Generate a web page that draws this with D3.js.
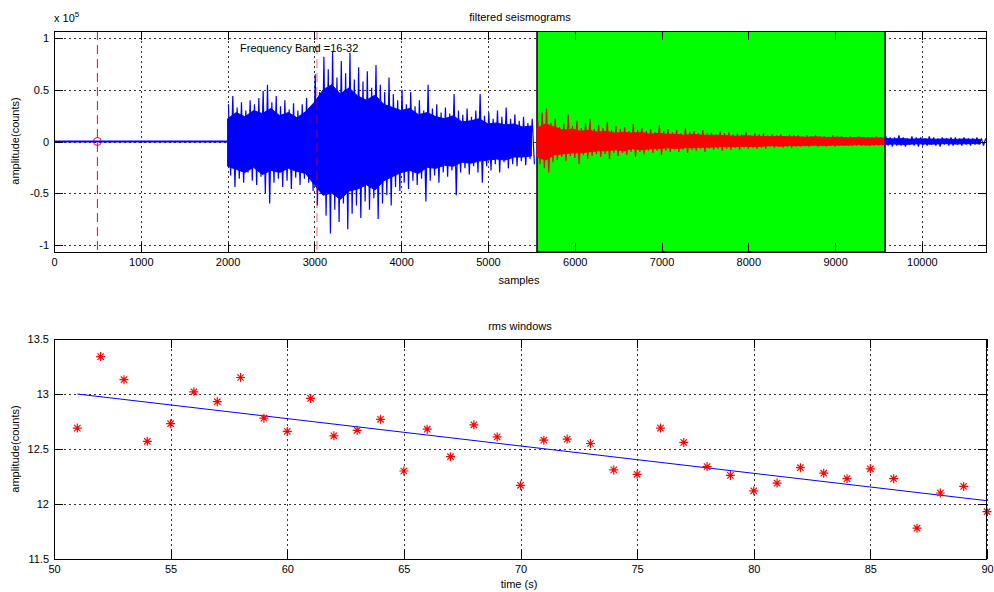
<!DOCTYPE html>
<html><head><meta charset="utf-8">
<script src="https://cdn.jsdelivr.net/npm/d3@7/dist/d3.min.js"></script>
<style>body{margin:0;background:#fff}svg{display:block;font-family:"Liberation Sans",Arial,sans-serif}</style>
</head><body>
<script>
// ---------- DATA ----------
// top panel: filtered seismogram (amplitude in units of 1e5 counts)
const quietSamples = [0, 2000];
const quietAmp = [0, 0];
// peak envelope per 50-sample bin
const loudStart = 2000, loudStep = 50;
const loudUpper = [0.36,0.44,0.33,0.38,0.30,0.40,0.36,0.42,0.49,0.55,0.38,0.44,0.34,0.40,0.31,0.37,0.30,0.36,0.42,0.34,
  0.65,0.48,0.82,0.70,0.87,0.62,0.78,0.66,0.86,0.60,0.72,0.58,0.68,0.52,0.74,0.55,0.48,0.62,0.46,0.40,
  0.50,0.36,0.48,0.34,0.40,0.30,0.55,0.32,0.36,0.28,0.33,0.27,0.46,0.30,0.26,0.32,0.24,0.30,0.46,0.25,
  0.28,0.22,0.30,0.24,0.33,0.22,0.26,0.20,0.24,0.18,0.22];
const loudLower = [-0.33,-0.44,-0.36,-0.40,-0.30,-0.38,-0.42,-0.34,-0.50,-0.60,-0.40,-0.36,-0.44,-0.38,-0.46,-0.35,-0.42,-0.36,-0.40,-0.48,
  -0.62,-0.50,-0.72,-0.89,-0.66,-0.78,-0.60,-0.85,-0.70,-0.62,-0.74,-0.58,-0.66,-0.55,-0.75,-0.60,-0.52,-0.62,-0.44,-0.48,
  -0.40,-0.46,-0.38,-0.42,-0.36,-0.58,-0.38,-0.33,-0.40,-0.30,-0.34,-0.28,-0.52,-0.30,-0.26,-0.32,-0.24,-0.30,-0.40,-0.24,
  -0.28,-0.22,-0.30,-0.20,-0.26,-0.22,-0.24,-0.19,-0.23,-0.17,-0.22];
const windowStart = 5565, windowEnd = 9575, windowStep = 50;
const windowUpper = [0.20,0.28,0.32,0.18,0.22,0.14,0.17,0.26,0.15,0.20,0.13,0.18,0.22,0.12,0.16,0.13,
  0.19,0.11,0.15,0.12,0.14,0.10,0.17,0.11,0.13,0.10,0.12,0.09,0.16,0.10,0.12,0.09,
  0.11,0.08,0.13,0.09,0.10,0.08,0.11,0.08,0.09,0.07,0.10,0.08,0.09,0.07,0.08,0.07,
  0.09,0.06,0.08,0.07,0.08,0.06,0.07,0.06,0.07,0.05,0.07,0.06,0.06,0.05,0.06,0.05,
  0.06,0.05,0.05,0.04,0.06,0.05,0.05,0.04,0.05,0.04,0.05,0.04,0.04,0.04,0.05,0.04];
const windowLower = [-0.22,-0.26,-0.30,-0.20,-0.18,-0.15,-0.19,-0.14,-0.16,-0.22,-0.13,-0.17,-0.14,-0.12,-0.15,-0.12,
  -0.17,-0.11,-0.14,-0.11,-0.13,-0.10,-0.15,-0.10,-0.12,-0.09,-0.11,-0.09,-0.13,-0.09,-0.10,-0.08,
  -0.10,-0.08,-0.11,-0.08,-0.09,-0.07,-0.10,-0.07,-0.08,-0.07,-0.09,-0.07,-0.08,-0.06,-0.08,-0.06,
  -0.07,-0.06,-0.07,-0.06,-0.07,-0.05,-0.06,-0.05,-0.06,-0.05,-0.06,-0.05,-0.05,-0.04,-0.05,-0.04,
  -0.05,-0.04,-0.05,-0.04,-0.05,-0.04,-0.04,-0.04,-0.04,-0.04,-0.04,-0.03,-0.04,-0.04,-0.04,-0.03];
const tailStart = 9575, tailStep = 50;
const tailUpper = [0.05,0.04,0.04,0.06,0.04,0.03,0.05,0.04,0.04,0.03,0.05,0.04,0.03,0.04,0.03,0.04,0.04,0.03,0.04,0.03,0.03,0.04,0.03,0.03];
const tailLower = [-0.04,-0.05,-0.04,-0.04,-0.05,-0.03,-0.04,-0.05,-0.04,-0.04,-0.03,-0.04,-0.05,-0.03,-0.04,-0.04,-0.03,-0.04,-0.03,-0.04,-0.03,-0.03,-0.04,-0.03];
// dense core (typical amplitude) per 100-sample bin
const loudCoreStart = 2000, windowCoreStart = 5565, tailCoreStart = 9575, coreStep = 100;
const loudCoreUpper = [0.22,0.28,0.24,0.30,0.27,0.32,0.25,0.28,0.23,0.29,0.38,0.50,0.55,0.46,0.52,0.44,0.40,0.45,0.36,0.33,
  0.30,0.32,0.26,0.28,0.24,0.22,0.25,0.19,0.20,0.22,0.17,0.18,0.16,0.17,0.14,0.15];
const loudCoreLower = [-0.24,-0.27,-0.30,-0.25,-0.32,-0.28,-0.30,-0.26,-0.29,-0.31,-0.42,-0.52,-0.50,-0.56,-0.48,-0.46,-0.42,-0.47,-0.38,-0.34,
  -0.30,-0.28,-0.31,-0.25,-0.26,-0.23,-0.24,-0.20,-0.21,-0.19,-0.18,-0.17,-0.18,-0.15,-0.15,-0.14];
const windowCoreUpper = [0.13,0.17,0.14,0.11,0.12,0.10,0.11,0.09,0.10,0.08,0.09,0.08,0.09,0.07,0.08,0.07,0.07,0.06,0.07,0.06,
  0.06,0.06,0.055,0.05,0.055,0.05,0.05,0.045,0.05,0.045,0.045,0.04,0.045,0.04,0.04,0.04,0.035,0.04,0.035,0.035,0.035];
const windowCoreLower = [-0.15,-0.18,-0.13,-0.12,-0.11,-0.11,-0.10,-0.09,-0.09,-0.08,-0.09,-0.07,-0.08,-0.07,-0.07,-0.06,-0.07,-0.06,-0.06,-0.055,
  -0.055,-0.05,-0.05,-0.05,-0.045,-0.05,-0.045,-0.04,-0.045,-0.04,-0.04,-0.04,-0.035,-0.04,-0.035,-0.035,-0.035,-0.03,-0.035,-0.03,-0.03];
const tailCoreUpper = [0.03,0.025,0.028,0.022,0.026,0.024,0.022,0.025,0.02,0.024,0.022,0.02];
const tailCoreLower = [-0.028,-0.024,-0.03,-0.025,-0.022,-0.026,-0.024,-0.02,-0.025,-0.022,-0.02,-0.022];
const pickSamples = [500, 3030];
const originMarker = [500, 0];
const bandLabel = "Frequency Band =16-32";
const topXTicks = [0,1000,2000,3000,4000,5000,6000,7000,8000,9000,10000];
const topYTicks = [-1,-0.5,0,0.5,1];

// bottom panel: rms windows
const rmsTime = [51,52,53,54,55,56,57,58,59,60,61,62,63,64,65,66,67,68,69,70,71,72,73,74,75,76,77,78,79,80,81,82,83,84,85,86,87,88,89,90];
const rmsAmp = [12.69,13.34,13.13,12.57,12.73,13.02,12.93,13.15,12.78,12.66,12.96,12.62,12.67,12.77,12.30,12.68,12.43,12.72,12.61,12.17,
  12.58,12.59,12.55,12.31,12.27,12.69,12.56,12.34,12.26,12.12,12.19,12.33,12.28,12.23,12.32,12.23,11.78,12.10,12.16,11.93];
const fitTime = [51, 90];
const fitAmp = [13.00, 12.03];
const botXTicks = [50,55,60,65,70,75,80,85,90];
const botYTicks = [11.5,12,12.5,13,13.5];

// ---------- DRAW ----------
const W = 994, H = 592;
const svg = d3.select("body").append("svg").attr("width", W).attr("height", H);
const FS = 11;

function panel(top, bottom, xDom, yDom, xTicks, yTicks, yFmt) {
  const x = d3.scaleLinear().domain(xDom).range([54, 987]);
  const y = d3.scaleLinear().domain(yDom).range([bottom, top]);
  const g = svg.append("g");
  g.append("rect").attr("x",54).attr("y",top).attr("width",933).attr("height",bottom-top).attr("fill","#fff");
  const grid = g.append("g").attr("stroke","#000").attr("stroke-width",1).attr("stroke-dasharray","2,3").attr("stroke-opacity",0.8);
  xTicks.forEach(t => grid.append("line").attr("x1",Math.round(x(t))+0.5).attr("x2",Math.round(x(t))+0.5).attr("y1",top).attr("y2",bottom));
  yTicks.forEach(t => grid.append("line").attr("y1",Math.round(y(t))+0.5).attr("y2",Math.round(y(t))+0.5).attr("x1",54).attr("x2",987));
  return {x, y, g, top, bottom, xTicks, yTicks, yFmt};
}
function frame(p) {
  const {x, y, g, top, bottom} = p;
  const ax = d3.axisBottom(x).tickValues(p.xTicks).tickSize(0).tickPadding(6).tickFormat(d3.format("d"));
  const axg = g.append("g").attr("transform",`translate(0,${bottom})`).call(ax);
  axg.select(".domain").remove();
  axg.selectAll("text").attr("font-size",FS).attr("fill","#000").attr("font-family","Liberation Sans, Arial, sans-serif");
  const ay = d3.axisLeft(y).tickValues(p.yTicks).tickSize(0).tickPadding(5).tickFormat(p.yFmt);
  const ayg = g.append("g").attr("transform",`translate(54,0)`).call(ay);
  ayg.select(".domain").remove();
  ayg.selectAll("text").attr("font-size",FS).attr("fill","#000").attr("font-family","Liberation Sans, Arial, sans-serif");
  const tk = g.append("g").attr("stroke","#000").attr("stroke-width",1);
  p.xTicks.forEach(t => {
    const xx = Math.round(x(t))+0.5;
    tk.append("line").attr("x1",xx).attr("x2",xx).attr("y1",bottom).attr("y2",bottom-9);
    tk.append("line").attr("x1",xx).attr("x2",xx).attr("y1",top).attr("y2",top+9);
  });
  p.yTicks.forEach(t => {
    const yy = Math.round(y(t))+0.5;
    tk.append("line").attr("y1",yy).attr("y2",yy).attr("x1",54).attr("x2",63);
    tk.append("line").attr("y1",yy).attr("y2",yy).attr("x1",987).attr("x2",978);
  });
  g.append("rect").attr("x",54.5).attr("y",top+0.5).attr("width",932).attr("height",bottom-top).attr("fill","none").attr("stroke","#000").attr("stroke-width",1);
}

// ----- top panel -----
const p1 = panel(31, 252, [0, 10750], [-1.07, 1.07], topXTicks, topYTicks, d => d===0?"0":String(d));
svg.append("defs").append("clipPath").attr("id","clip1").append("rect").attr("x",54).attr("y",31).attr("width",933).attr("height",221);
const plot1 = p1.g.append("g").attr("clip-path","url(#clip1)");
// green window
plot1.append("rect").attr("x",p1.x(windowStart)).attr("y",31).attr("width",p1.x(windowEnd)-p1.x(windowStart)).attr("height",221)
  .attr("fill","#00ff00").attr("stroke","#000").attr("stroke-width",1.5);

const area1 = d3.area().x(d => p1.x(d[0])).y0(d => p1.y(d[2])).y1(d => p1.y(d[1]));
const line1 = d3.line().x(d => p1.x(d[0])).y(d => p1.y(d[1]));
function signal(start, step, up, lo, cStart, cu, cl, color) {
  plot1.append("path").datum(cu.map((u,i)=>[cStart + i*coreStep, u, cl[i]])).attr("d",area1).attr("fill",color).attr("stroke",color).attr("stroke-width",1);
  const pts = [];
  up.forEach((u,i) => {
    pts.push([start + i*step + step*0.2, u]);
    pts.push([start + i*step + step*0.7, lo[i]]);
  });
  plot1.append("path").datum(pts).attr("d",line1).attr("fill","none").attr("stroke",color).attr("stroke-width",1.2).attr("stroke-linejoin","miter").attr("stroke-miterlimit",2);
}
// origin marker
plot1.append("circle").attr("cx",p1.x(originMarker[0])).attr("cy",p1.y(originMarker[1])).attr("r",4).attr("fill","none").attr("stroke","#ff0000").attr("stroke-width",1);
plot1.append("path").datum(quietSamples.map((s,i)=>[s,quietAmp[i]])).attr("d",line1).attr("fill","none").attr("stroke","#0000ff").attr("stroke-width",2);
signal(loudStart, loudStep, loudUpper, loudLower, loudCoreStart, loudCoreUpper, loudCoreLower, "#0000ff");
signal(windowStart, windowStep, windowUpper, windowLower, windowCoreStart, windowCoreUpper, windowCoreLower, "#ff0000");
signal(tailStart, tailStep, tailUpper, tailLower, tailCoreStart, tailCoreUpper, tailCoreLower, "#0000ff");
// pick lines
pickSamples.forEach((s,i) => {
  plot1.append("line").attr("x1",p1.x(s)).attr("x2",p1.x(s)).attr("y1",31).attr("y2",252)
    .attr("stroke","#ff0000").attr("stroke-width",1).attr("stroke-dasharray","9,5").attr("stroke-opacity", i===0?1:0.6);
});
plot1.append("text").attr("x",240).attr("y",52).attr("font-size",11).attr("fill","#000").text(bandLabel);
frame(p1);
svg.append("text").attr("x",520).attr("y",21).attr("text-anchor","middle").attr("font-size",11).text("filtered seismograms");
svg.append("text").attr("x",519).attr("y",284).attr("text-anchor","middle").attr("font-size",11).text("samples");
const exp = svg.append("text").attr("x",54).attr("y",22).attr("font-size",11);
exp.append("tspan").text("x 10");
exp.append("tspan").attr("font-size",8).attr("dy",-5).text("5");
svg.append("text").attr("transform","translate(19,141) rotate(-90)").attr("text-anchor","middle").attr("font-size",11).text("amplitude(counts)");

// ----- bottom panel -----
const p2 = panel(339, 559, [50, 90], [11.5, 13.5], botXTicks, botYTicks, d => String(d));
svg.select("defs").append("clipPath").attr("id","clip2").append("rect").attr("x",54).attr("y",339).attr("width",933).attr("height",220);
const plot2 = p2.g.append("g").attr("clip-path","url(#clip2)");
const line2 = d3.line().x(d => p2.x(d[0])).y(d => p2.y(d[1]));
plot2.append("path").datum(fitTime.map((t,i)=>[t,fitAmp[i]])).attr("d",line2).attr("fill","none").attr("stroke","#0000ff").attr("stroke-width",1);
const star = "M-4.5,0L4.5,0M0,-4.5L0,4.5M-3.2,-3.2L3.2,3.2M-3.2,3.2L3.2,-3.2";
p2.g.append("g").selectAll("path").data(rmsTime.map((t,i)=>[t,rmsAmp[i]])).join("path")
  .attr("transform",d=>`translate(${p2.x(d[0])},${p2.y(d[1])})`).attr("d",star)
  .attr("stroke","#ff0000").attr("stroke-width",1.2).attr("fill","none");
frame(p2);
svg.append("text").attr("x",520).attr("y",330).attr("text-anchor","middle").attr("font-size",11).text("rms windows");
svg.append("text").attr("x",519).attr("y",588).attr("text-anchor","middle").attr("font-size",11).text("time (s)");
svg.append("text").attr("transform","translate(19,449) rotate(-90)").attr("text-anchor","middle").attr("font-size",11).text("amplitude(counts)");
</script>
</body></html>
